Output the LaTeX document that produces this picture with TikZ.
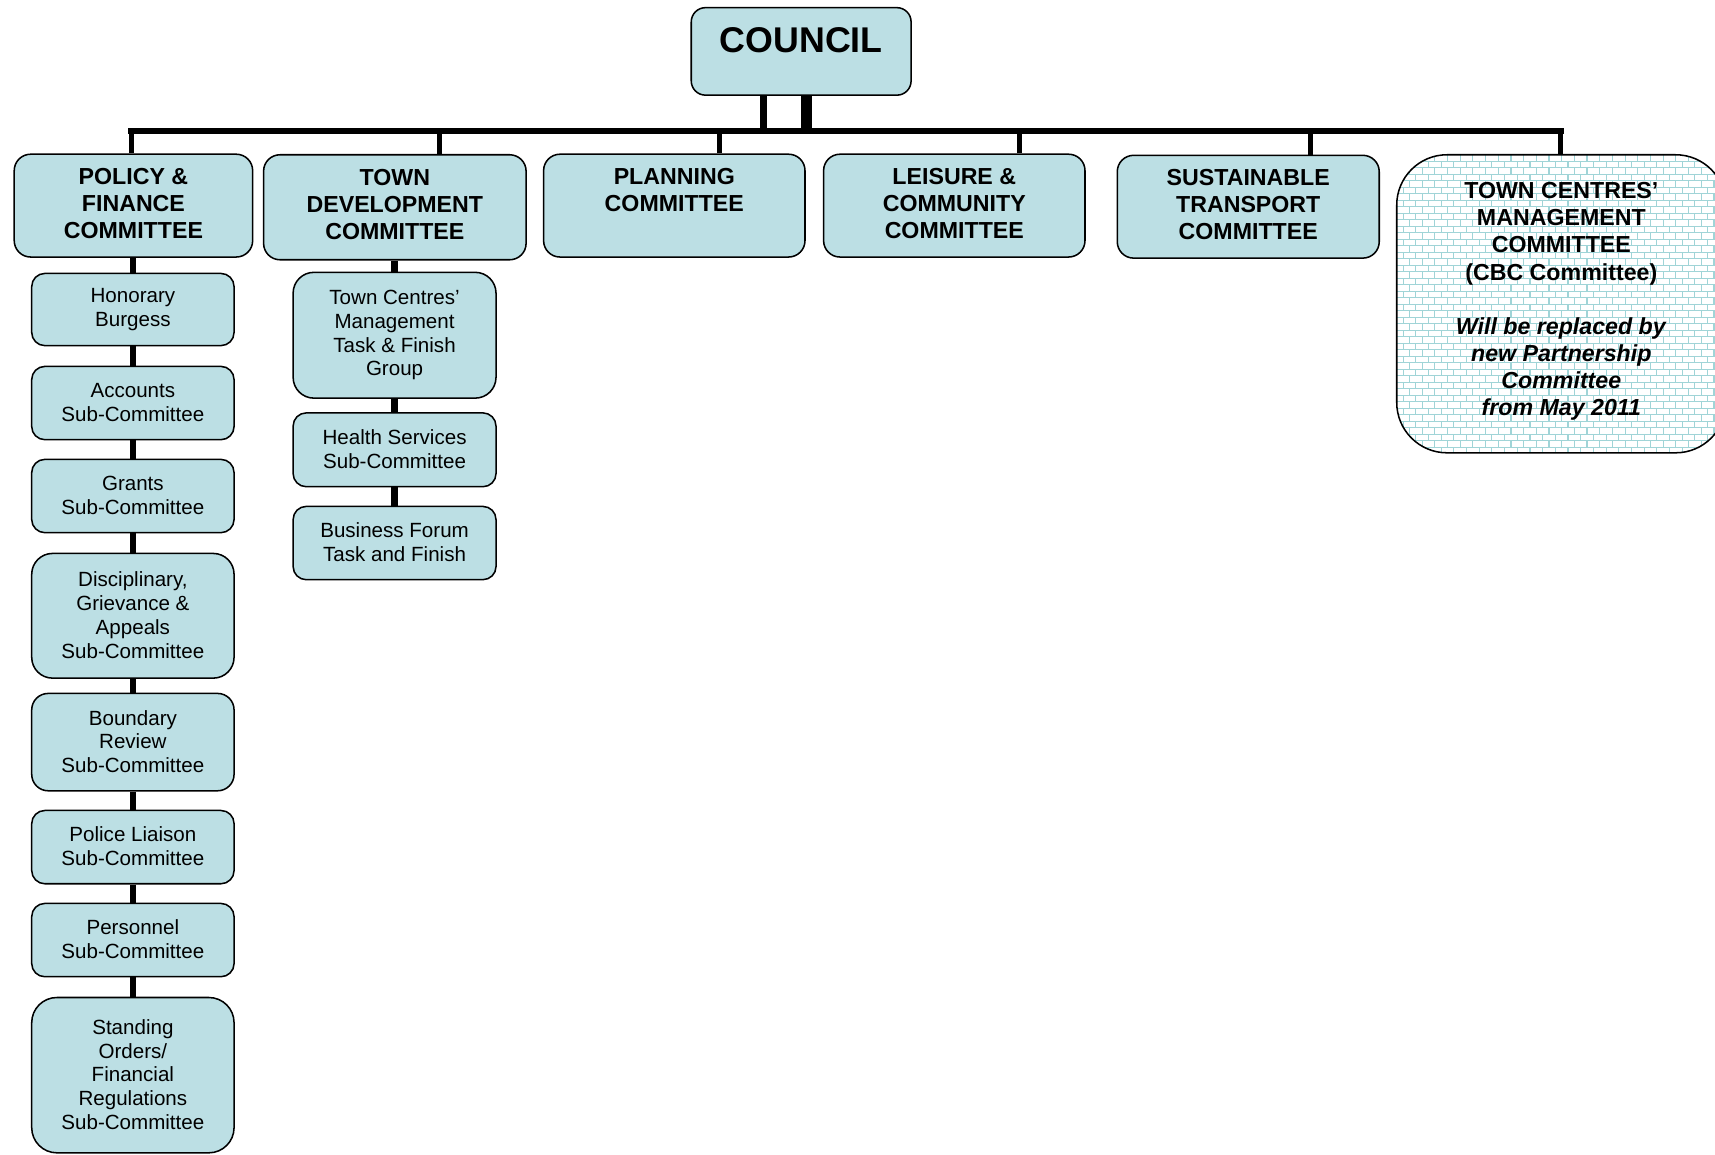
\documentclass[tikz,border=0pt]{standalone}
\usepackage{fontspec}
\setmainfont{Liberation Sans}
\definecolor{boxblue}{RGB}{188,223,228}
\definecolor{mortarc}{RGB}{160,212,215}
\newcommand\subfnt{\fontsize{18.8}{21.7}\selectfont}
\newcommand\headfnt{\fontsize{21.2}{24.75}\selectfont\bfseries}
\newcommand\councilfnt{\fontsize{32.7}{38}\selectfont\bfseries}
\newcommand\substrut{\vrule height 20.2pt depth 1.5pt width 0pt}
\newcommand\headstrut{\vrule height 20pt depth 4.7pt width 0pt}
\begin{document}
\begin{tikzpicture}[x=1pt,y=-1pt,
  box/.style={draw=black, line width=1.4pt, fill=boxblue, inner sep=0pt, align=center, text=black},
  head/.style={box, font=\headfnt, execute at begin node=\headstrut, execute at end node=\headstrut, minimum height=94pt},
  sub/.style={box, font=\subfnt, execute at begin node=\substrut, execute at end node=\substrut, minimum width=185pt},
  link/.style={line width=6pt},
  drop/.style={line width=4.5pt},
  mortar line/.style={draw=mortarc, line width=1.05pt}]
\useasboundingbox (0,0) rectangle (1568,1056);

% brick pattern of the last committee box
\begin{scope}
  \clip[rounded corners=46pt] (1277,141.5) rectangle (1578,414);
  \fill[white] (1277,141.5) rectangle (1578,414);
  \foreach \r in {0,...,46}{
    \pgfmathsetmacro{\yy}{141.5+\r*5.94}
    \pgfmathsetmacro{\off}{mod(\r,2)*5.8}
    \draw[mortar line] (1277,\yy) -- (1578,\yy);
    \foreach \c in {0,...,26}{
      \draw[mortar line] ({1277+\off+\c*11.6},\yy) -- ++(0,5.94);
    }
  }
\end{scope}

% council
\node[box, font=\councilfnt, rounded corners=13pt, minimum width=201pt, minimum height=80pt, text height=23.5pt, text depth=22pt] (council) at (732.5,47) {COUNCIL};

% committees
\node[head, rounded corners=15pt, minimum width=218pt] (pf) at (122,188) {POLICY \&\\FINANCE\\COMMITTEE};
\node[head, rounded corners=15pt, minimum width=240pt, minimum height=96pt] (td) at (361,189.5) {TOWN\\DEVELOPMENT\\COMMITTEE};
\node[head, rounded corners=15pt, minimum width=239pt] (pl) at (616.5,188) {PLANNING\\COMMITTEE\\\mbox{}};
\node[head, rounded corners=15pt, minimum width=239pt] (le) at (872.5,188) {LEISURE \&\\COMMUNITY\\COMMITTEE};
\node[head, rounded corners=15pt, minimum width=239.5pt] (su) at (1141.25,189) {SUSTAINABLE\\TRANSPORT\\COMMITTEE};
\node[head, fill=none, rounded corners=46pt, minimum width=301pt, minimum height=272.5pt, execute at end node={\vrule height 0pt depth 8.7pt width 0pt}] (tcmc) at (1427.5,277.75)
  {TOWN CENTRES’\\MANAGEMENT\\COMMITTEE\\(CBC Committee)\\[24.75pt]\textit{Will be replaced by}\\\textit{new Partnership}\\\textit{Committee}\\\textit{from May 2011}};

% policy & finance sub-committees
\node[sub, rounded corners=12pt, minimum height=66pt] (hon) at (121.5,283) {Honorary\\Burgess};
\node[sub, rounded corners=12pt, minimum height=67pt] (acc) at (121.5,368.5) {Accounts\\Sub-Committee};
\node[sub, rounded corners=12pt, minimum height=67pt] (gra) at (121.5,453.5) {Grants\\Sub-Committee};
\node[sub, rounded corners=19pt, minimum height=114pt] (dis) at (121.5,563) {Disciplinary,\\Grievance \&\\Appeals\\Sub-Committee};
\node[sub, rounded corners=15pt, minimum height=89pt] (bou) at (121.5,678.5) {Boundary\\Review\\Sub-Committee};
\node[sub, rounded corners=12pt, minimum height=67pt] (pol) at (121.5,774.5) {Police Liaison\\Sub-Committee};
\node[sub, rounded corners=12pt, minimum height=67pt] (per) at (121.5,859.5) {Personnel\\Sub-Committee};
\node[sub, rounded corners=23pt, minimum height=142pt] (sta) at (121.5,983) {Standing\\Orders/\\Financial\\Regulations\\Sub-Committee};

% town development sub-groups
\node[sub, rounded corners=19pt, minimum height=115pt, minimum width=185.5pt] (tcm) at (360.75,306.5) {Town Centres’\\Management\\Task \& Finish\\Group};
\node[sub, rounded corners=12pt, minimum height=67.5pt, minimum width=185.5pt] (hs) at (360.75,411.25) {Health Services\\Sub-Committee};
\node[sub, rounded corners=12pt, minimum height=67pt, minimum width=185.5pt] (bf) at (360.75,496.5) {Business Forum\\Task and Finish};

% bus and council links
\coordinate (busL) at (120,120);
\coordinate (busR) at (1427,120);
\draw[line width=5.5pt, line cap=rect] (busL) -- (busR);
\coordinate (cl) at ([xshift=-34.5pt]council.south);
\coordinate (cr) at ([xshift=4.5pt]council.south);
\draw[line width=6.4pt] (cl) -- (cl |- busL);
\draw[line width=10pt] (cr) -- (cr |- busL);

% drops to committees
\coordinate (dpf) at ([xshift=-2pt]pf.north);
\coordinate (dtd) at ([xshift=41pt]td.north);
\coordinate (dpl) at ([xshift=41.5pt]pl.north);
\coordinate (dle) at ([xshift=59.5pt]le.north);
\coordinate (dsu) at ([xshift=56.75pt]su.north);
\coordinate (dtc) at ([xshift=-0.5pt]tcmc.north);
\foreach \d in {dpf,dtd,dpl,dle,dsu,dtc}{
  \draw[drop] (\d) -- (\d |- busL);
}

% sub-committee links
\draw[link] (hon.north |- pf.south) -- (hon.north);
\draw[link] (hon.south) -- (acc.north);
\draw[link] (acc.south) -- (gra.north);
\draw[link] (gra.south) -- (dis.north);
\draw[link] (dis.south) -- (bou.north);
\draw[link] (bou.south) -- (pol.north);
\draw[link] (pol.south) -- (per.north);
\draw[link] (per.south) -- (sta.north);
\draw[link] (tcm.north |- td.south) -- (tcm.north);
\draw[link] (tcm.south) -- (hs.north);
\draw[link] (hs.south) -- (bf.north);
\end{tikzpicture}
\end{document}
